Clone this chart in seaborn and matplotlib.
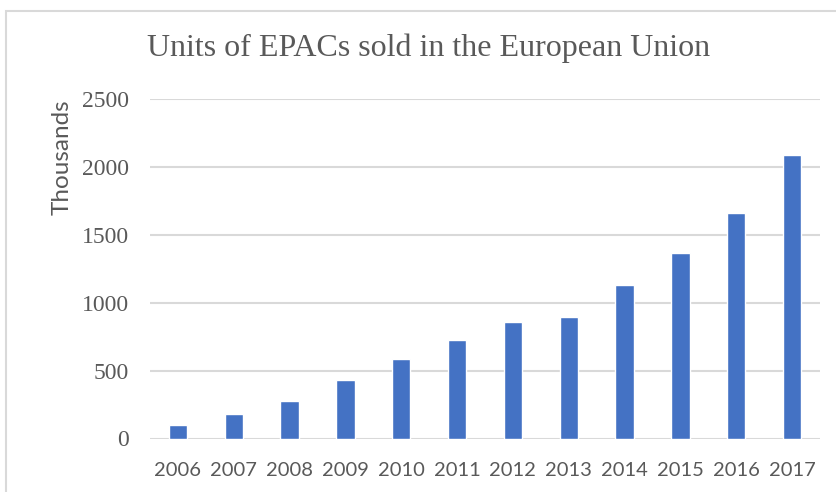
import matplotlib
matplotlib.use("Agg")
import matplotlib.pyplot as plt
import seaborn as sns
import pandas as pd
from matplotlib.patches import Rectangle

years = ["2006", "2007", "2008", "2009", "2010", "2011", "2012", "2013", "2014", "2015", "2016", "2017"]
units_thousands = [100, 180, 278, 432, 588, 725, 859, 898, 1132, 1364, 1657, 2086]
y_ticks = [0, 500, 1000, 1500, 2000, 2500]

df = pd.DataFrame({"year": years, "units": units_thousands})

sns.set_theme(style="white")
W, H = 837, 492
fig = plt.figure(figsize=(W / 100, H / 100), dpi=100)
ax_h = 438.5 - 99
ax = fig.add_axes([150 / W, 1 - 438.5 / H, 670 / W, ax_h / H])

sns.barplot(data=df, x="year", y="units", color="#4472C4", width=0.33,
            saturation=1, ax=ax, zorder=3)

ax.set_ylim(0, 2500)
ax.set_xlim(-0.5, 11.5)
ax.set_yticks(y_ticks)
ax.set_yticklabels([str(v) for v in y_ticks], family="Liberation Serif", fontsize=17, color="#595959")
ax.set_xticks(range(len(years)))
ax.set_xticklabels(years, family="Lato", fontsize=14.5, color="#595959")
ax.tick_params(axis="both", length=0)
ax.tick_params(axis="y", pad=15)
ax.tick_params(axis="x", pad=17)
ax.grid(axis="y", color="#D9D9D9", linewidth=1.5, zorder=0)
ax.grid(axis="x", visible=False)
for s in ax.spines.values():
    s.set_visible(False)
ax.set_xlabel("")
ax.set_ylabel("Thousands", family="Lato", fontsize=17.5, color="#595959")
ax.yaxis.set_label_coords((62 - 150) / 670, (438.5 - 157) / ax_h)
ax.yaxis.label.set_verticalalignment("center")
ax.yaxis.label.set_horizontalalignment("center")

fig.text(429 / W, 1 - 48 / H, "Units of EPACs sold in the European Union",
         family="Liberation Serif", fontsize=23, color="#595959", ha="center", va="center")

fig.patches.append(Rectangle((6 / W, -0.1), 2.0, (H - 11) / H + 0.1,
                             transform=fig.transFigure, fill=False,
                             edgecolor="#D9D9D9", linewidth=1.5))

fig.savefig("out.png", dpi=100)
